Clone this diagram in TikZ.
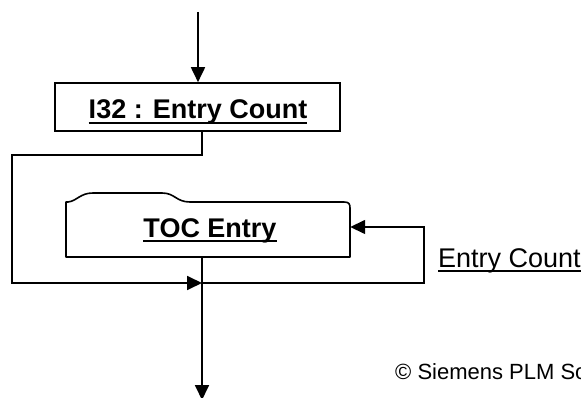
\documentclass[tikz,border=0pt]{standalone}
\usepackage{fontspec}
\setmainfont{Liberation Sans}
\usetikzlibrary{arrows.meta}
\tikzset{
  flow/.style={line width=1.8pt, line join=miter},
  arr/.style={flow, -{Triangle[length=15pt,width=14pt]}},
  box/.style={draw, line width=1.6pt, inner sep=0pt},
  title/.style={font=\fontsize{27}{31}\selectfont\bfseries, inner sep=0pt, anchor=base},
  plain/.style={font=\fontsize{27}{31}\selectfont, inner sep=0pt, anchor=base west},
  ul/.style={line width=2.2pt},
}
\begin{document}
\begin{tikzpicture}[x=1pt, y=-1pt]
\useasboundingbox (0,0) rectangle (581,398);
\clip (0,0) rectangle (581,398);

% record box
\node[box, minimum width=285pt, minimum height=48pt] (i32) at (197.5,107) {};
\node[title] (i32t) at (198,119) {I32 : Entry Count};
\draw[ul] ([yshift=-4pt]i32t.base west) -- ([yshift=-4pt]i32t.base east);

% repeated group box with a tab on its top edge
\node[inner sep=0pt, minimum width=284pt, minimum height=55pt] (toc) at (208,229.5) {};
\draw[line width=1.6pt, line join=round]
  (66,257) -- (66,202) -- (68,202) .. controls (77,201) and (80,193) .. (93,193)
  -- (162,193) .. controls (175,193) and (176,202) .. (190,202)
  -- (344,202) .. controls (349,202) and (350,204) .. (350,208)
  -- (350,257) -- cycle;
\node[title] (toct) at (210,237) {TOC Entry};
\draw[ul] ([yshift=-4pt]toct.base west) -- ([yshift=-4pt]toct.base east);

% side label and copyright line
\node[plain] (cnt) at (438,267) {Entry Count};
\draw[line width=1.5pt] ([yshift=-4pt]cnt.base west) -- ([yshift=-4pt]cnt.base east);
\node[font=\fontsize{22}{26}\selectfont, inner sep=0pt, anchor=base west] (copy) at (395,379) {© Siemens PLM Software};

% connectors
\coordinate (in) at (198,12);
\coordinate (j) at (202,283);
\coordinate (out) at (202,400);
\coordinate (fb) at (424,227);
\coordinate (lb) at (12,155);

\draw[arr] (in) -- (in |- i32.north);
\draw[arr] (i32.south -| j) |- (lb) |- (j);
\draw[arr] (toc.south -| j) -- (out);
\draw[arr, line width=1.5pt] (j) -| (fb) -- (fb -| toc.east);
\end{tikzpicture}
\end{document}
